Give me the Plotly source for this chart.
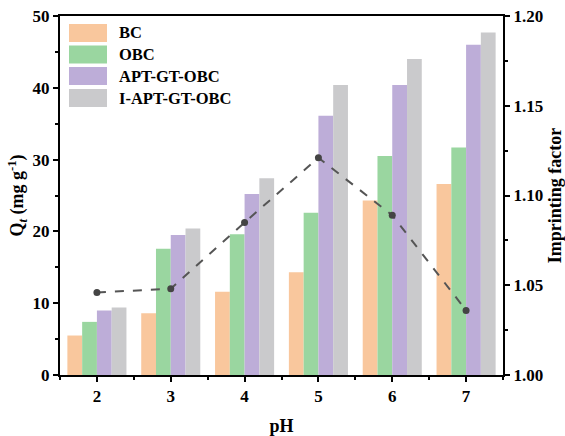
import plotly.graph_objects as go

# pH values and adsorption capacities Qt (mg/g)
ph = [2, 3, 4, 5, 6, 7]
bc = [5.5, 8.6, 11.6, 14.3, 24.3, 26.6]
obc = [7.4, 17.6, 19.6, 22.6, 30.5, 31.7]
apt_gt_obc = [9.0, 19.5, 25.2, 36.1, 40.4, 46.0]
i_apt_gt_obc = [9.4, 20.4, 27.4, 40.4, 44.0, 47.7]

# Imprinting factor at each pH
imprinting = [1.046, 1.048, 1.085, 1.121, 1.089, 1.036]

series_names = ["BC", "OBC", "APT-GT-OBC", "I-APT-GT-OBC"]
series_vals = [bc, obc, apt_gt_obc, i_apt_gt_obc]
colors = ["#F9C79D", "#9AD6A0", "#BDADD8", "#CACACC"]

FONT = "Liberation Serif"
W, H = 565, 436
ML, MR, MT, MB = 60, 62, 16, 61
PW, PH = W - ML - MR, H - MT - MB

fig = go.Figure()
for name, vals, col in zip(series_names, series_vals, colors):
    fig.add_trace(go.Bar(x=ph, y=vals, name=name, showlegend=False,
                         marker=dict(color=col, line=dict(width=0))))

fig.add_trace(go.Scatter(
    x=ph, y=imprinting, yaxis="y2", mode="lines+markers",
    line=dict(color="#555555", dash="dash", width=2),
    marker=dict(color="#444444", size=7),
    showlegend=False,
))

axis_common = dict(
    showline=True, linecolor="black", linewidth=2,
    ticks="outside", tickwidth=2, ticklen=5, tickcolor="black",
    showgrid=False, zeroline=False, automargin=False,
    tickfont=dict(family=FONT, size=17, color="black", weight="bold"),
)
minor_common = dict(ticks="outside", ticklen=3, tickwidth=2, tickcolor="black")
title_font = dict(family=FONT, size=18, color="black", weight="bold")

fig.update_layout(
    width=W, height=H,
    margin=dict(l=ML, r=MR, t=MT, b=MB),
    plot_bgcolor="white", paper_bgcolor="white",
    barmode="group", bargap=0.2, bargroupgap=0,
    font=dict(family=FONT, size=17, color="black"),
    showlegend=False,
    xaxis=dict(
        range=[1.5, 7.5], tickvals=ph, mirror=True,
        minor=dict(tickvals=[1.5 + i for i in range(7)], **minor_common),
        title=dict(text="pH", font=title_font, standoff=14),
        **axis_common,
    ),
    yaxis=dict(
        range=[0, 50], dtick=10,
        minor=dict(dtick=5, **minor_common),
        title=dict(text="Q<sub><i>t</i></sub> (mg g<sup>-1</sup>)", font=title_font, standoff=4),
        **axis_common,
    ),
    yaxis2=dict(
        overlaying="y", side="right",
        range=[1.0, 1.2], dtick=0.05, tickformat=".2f",
        minor=dict(dtick=0.025, **minor_common),
        title=dict(text="Imprinting factor", font=title_font, standoff=8),
        **axis_common,
    ),
)

# Legend: coloured swatches with bold labels in the upper-left corner
row_centres = [33, 54.5, 76, 98]  # px from top of figure
sw_x0, sw_x1, sw_h, txt_x = 69, 107, 18, 117
for name, col, yc in zip(series_names, colors, row_centres):
    y0 = 1 - (yc + sw_h / 2 - MT) / PH
    y1 = 1 - (yc - sw_h / 2 - MT) / PH
    fig.add_shape(type="rect", xref="paper", yref="paper",
                  x0=(sw_x0 - ML) / PW, x1=(sw_x1 - ML) / PW, y0=y0, y1=y1,
                  fillcolor=col, line=dict(width=0))
    fig.add_annotation(xref="paper", yref="paper", x=(txt_x - ML) / PW,
                       y=1 - (yc - MT) / PH, xanchor="left", yanchor="middle",
                       text=name, showarrow=False,
                       font=dict(family=FONT, size=16.5, color="black", weight="bold"))

fig.write_html("out.html")
